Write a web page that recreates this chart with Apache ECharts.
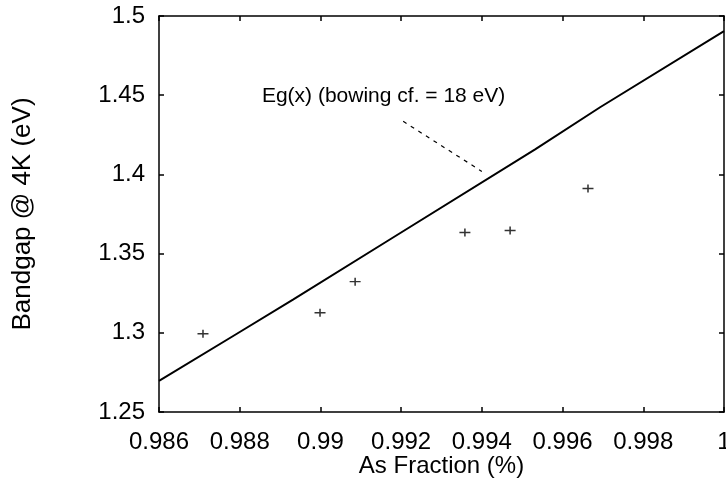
<!DOCTYPE html>
<html><head><meta charset="utf-8">
<script src="https://cdn.jsdelivr.net/npm/echarts@6/dist/echarts.min.js"></script>
<style>html,body{margin:0;padding:0;background:#fff}#c{width:726px;height:479px}</style>
</head><body><div id="c"></div>
<script>
// Eg(x) curve (bowing cf. = 18 eV)
const curveX = [0.986, 0.98793, 0.98932, 0.99172, 0.99532, 0.99693, 1.0];
const curveY = [1.2696, 1.2994, 1.3209, 1.3589, 1.4158, 1.4424, 1.4905];
// measured points
const measX = [0.98709, 0.98999, 0.99086, 0.99358, 0.99470, 0.99663];
const measY = [1.2994, 1.3127, 1.3323, 1.3633, 1.3646, 1.3911];
const xTicks = [0.986, 0.988, 0.99, 0.992, 0.994, 0.996, 0.998, 1];
const yTicks = [1.25, 1.3, 1.35, 1.4, 1.45, 1.5];
const annText = 'Eg(x) (bowing cf. = 18 eV)';
const annPos = [0.98855, 1.4494];
const leader = [[0.99205, 1.4335], [0.9940, 1.4019]];

const font = 'Liberation Sans, Arial, Helvetica, sans-serif';
const chart = echarts.init(document.getElementById('c'));
const fmtX = v => { const r = Math.round(v*1000)/1000; return String(r); };
const fmtY = v => String(Math.round(v*100)/100);
const axisCommon = {
  axisLine: {show: true, lineStyle: {color: '#000', width: 1.5}},
  axisTick: {show: true, inside: true, length: 5, lineStyle: {color: '#000', width: 1.5}},
  splitLine: {show: false}
};
chart.setOption({
  animation: false,
  backgroundColor: '#fff',
  grid: {left: 159, right: 2, top: 16, bottom: 67, containLabel: false, outerBoundsMode: 'none'},
  xAxis: [
    Object.assign({type: 'value', min: 0.986, max: 1, interval: 0.002, position: 'bottom',
      axisLabel: {color: '#000', fontFamily: font, fontSize: 24, margin: 18, formatter: fmtX,
        showMinLabel: true, showMaxLabel: true},
      name: 'As Fraction (%)', nameLocation: 'middle', nameGap: 42, nameMoveOverlap: false,
      nameTextStyle: {color: '#000', fontFamily: font, fontSize: 24}}, axisCommon),
    Object.assign({type: 'value', min: 0.986, max: 1, interval: 0.002, position: 'top',
      axisLabel: {show: false}}, axisCommon)
  ],
  yAxis: [
    Object.assign({type: 'value', min: 1.25, max: 1.5, interval: 0.05, position: 'left',
      axisLabel: {color: '#000', fontFamily: font, fontSize: 24, margin: 14, formatter: fmtY},
      name: 'Bandgap @ 4K (eV)', nameLocation: 'middle', nameGap: 123, nameMoveOverlap: false,
      nameTextStyle: {color: '#000', fontFamily: font, fontSize: 26}}, axisCommon),
    Object.assign({type: 'value', min: 1.25, max: 1.5, interval: 0.05, position: 'right',
      axisLabel: {show: false}}, axisCommon)
  ],
  series: [
    {type: 'line', data: curveX.map((x, i) => [x, curveY[i]]), showSymbol: false, symbol: 'none',
      lineStyle: {color: '#000', width: 2}, silent: true,
      markLine: {symbol: 'none', silent: true, label: {show: false},
        lineStyle: {color: '#000', type: [4, 5], width: 1.2},
        data: [[{coord: leader[0]}, {coord: leader[1]}]]},
      markPoint: {symbol: 'circle', symbolSize: 0.01, silent: true,
        data: [{coord: annPos, label: {show: true, position: 'right', distance: 0, formatter: annText,
          color: '#000', fontFamily: font, fontSize: 21}}]}
    },
    {type: 'scatter', data: measX.map((x, i) => [x, measY[i]]),
      symbol: 'path://M0,3.3H10V4.7H0Z M4.3,0H5.7V8H4.3Z', symbolSize: [11, 8],
      itemStyle: {color: '#000'}}
  ]
});
</script></body></html>
